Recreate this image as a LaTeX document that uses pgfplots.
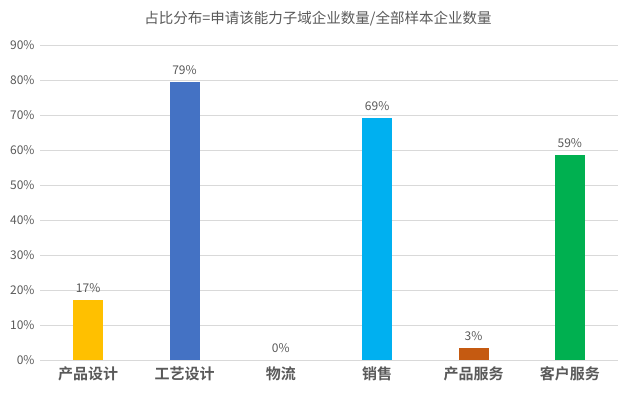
\documentclass[border=0pt]{standalone}
\usepackage{pgfplots}
\pgfplotsset{compat=1.18}
\usepackage{fontspec}
\setmainfont{Noto Sans CJK SC}
\newfontfamily\cjkb{Noto Sans CJK SC}[BoldFont={* Bold}]
\definecolor{txt}{HTML}{595959}
\definecolor{gridc}{HTML}{D9D9D9}
\definecolor{cY}{HTML}{FFC000}
\definecolor{cB}{HTML}{4472C4}
\definecolor{cS}{HTML}{00B0F0}
\definecolor{cO}{HTML}{C55A11}
\definecolor{cG}{HTML}{00B050}
\begin{document}
\begin{tikzpicture}[x=1pt,y=1pt]
\path[use as bounding box] (0,0) rectangle (633,396);
\node[text=txt,font=\fontsize{14.5}{16}\selectfont] at (318,377) {占比分布=申请该能力子域企业数量/全部样本企业数量};
\begin{axis}[
  at={(40pt,36pt)}, anchor=south west,
  scale only axis, width=578pt, height=315pt,
  xmin=-0.5, xmax=5.5, ymin=0, ymax=90,
  axis line style={draw=none},
  xmajorgrids=false, ymajorgrids=true,
  y grid style={gridc, line width=0.8pt},
  ytick={0,10,...,90},
  yticklabel={\pgfmathprintnumber{\tick}\%},
  xtick={0,1,2,3,4,5},
  xticklabels={产品设计,工艺设计,物流,销售,产品服务,客户服务},
  /pgf/number format/assume math mode=true,
  yticklabel style={text=txt, font=\fontsize{12}{14}\selectfont, xshift=-2pt},
  xticklabel style={text=txt, font=\cjkb\bfseries\fontsize{15}{17}\selectfont, yshift=-3pt},
  major tick length=0pt,
  ybar, bar width=30pt,
  nodes near coords={\pgfmathprintnumber[fixed,precision=0]{\pgfplotspointmeta}\%},
  nodes near coords style={text=txt, font=\fontsize{12}{14}\selectfont, yshift=4pt},
  point meta=explicit,
  clip=false,
]
\addplot[draw=none, fill=cY, bar shift=0pt] coordinates {(0,17.1) [17]};
\addplot[draw=none, fill=cB, bar shift=0pt] coordinates {(1,79.4) [79]};
\addplot[draw=none, fill=none, bar shift=0pt] coordinates {(2,0) [0]};
\addplot[draw=none, fill=cS, bar shift=0pt] coordinates {(3,69.1) [69]};
\addplot[draw=none, fill=cO, bar shift=0pt] coordinates {(4,3.4) [3]};
\addplot[draw=none, fill=cG, bar shift=0pt] coordinates {(5,58.6) [59]};
\end{axis}
\end{tikzpicture}
\end{document}
